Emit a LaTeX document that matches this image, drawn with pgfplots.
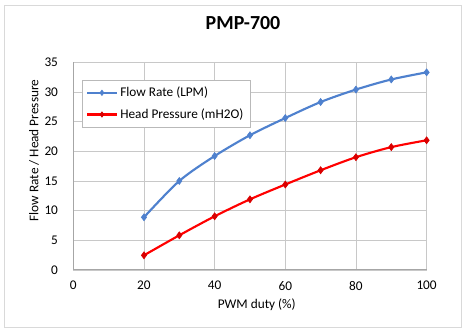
\documentclass[border=0pt]{standalone}
\usepackage{fontspec}
\setmainfont{Carlito}
\usepackage{pgfplots}
\pgfplotsset{compat=1.18}
\definecolor{flowblue}{RGB}{79,129,206}
\definecolor{headred}{RGB}{255,0,0}
\definecolor{gridgray}{RGB}{200,200,200}
\definecolor{axisgray}{RGB}{166,166,166}
\begin{document}
\begin{tikzpicture}
\path (-55bp,-46.5bp) rectangle (295.3bp,202.5bp);
\draw[gray!30, line width=0.75bp] (-51.6bp,-43.1bp) rectangle (291.2bp,198.4bp);
\begin{axis}[
  at={(0,0)}, anchor=south west,
  scale only axis, width=265bp, height=155.8bp,
  xmin=0, xmax=100, ymin=0, ymax=35,
  xtick={0,20,...,100}, ytick={0,5,...,35},
  grid=major, major grid style={gridgray, line width=0.6bp},
  axis line style={draw=none},
  tick style={draw=none},
  font=\fontsize{10}{12}\selectfont,
  /pgf/number format/assume math mode=true,
  xticklabel style={yshift=-5bp},
  yticklabel style={xshift=-8bp},
  legend style={at={(0.024,0.915)}, anchor=north west, draw=gray!55, line width=0.6bp,
    font=\fontsize{10}{12}\selectfont, row sep=3.5bp, inner xsep=3bp, inner ysep=3bp},
  legend cell align=left,
  legend image code/.code={\draw[mark repeat=2,mark phase=2,#1, mark size=2bp] plot coordinates {(0bp,0bp)(11bp,0bp)(22bp,0bp)};},
  clip=false,
]
\addplot[flowblue, line width=1.6bp, smooth, tension=0.5, mark=diamond*, mark size=2.6bp, mark options={fill=flowblue, draw=flowblue, line width=0.5bp}]
  coordinates {(20,8.88)(30,15.0)(40,19.2)(50,22.7)(60,25.6)(70,28.3)(80,30.4)(90,32.1)(100,33.3)};
\addlegendentry{Flow Rate (LPM)}
\addplot[headred, line width=1.6bp, smooth, tension=0.5, mark=diamond*, mark size=2.6bp, mark options={fill=headred!85!black, draw=headred!85!black, line width=0.5bp}]
  coordinates {(20,2.47)(30,5.84)(40,9.04)(50,11.9)(60,14.4)(70,16.8)(80,19.0)(90,20.7)(100,21.85)};
\addlegendentry{Head Pressure (mH2O)}
\draw[axisgray, line width=0.75bp] (rel axis cs:0,1) -- (rel axis cs:0,0) -- (rel axis cs:1,0);
\end{axis}
\node[font=\fontsize{15}{18}\selectfont\bfseries] at (127.3bp,185.3bp) {PMP-700};
\node[rotate=90, font=\fontsize{10}{12}\selectfont] at (-29.5bp,89.6bp) {Flow Rate / Head Pressure};
\node[font=\fontsize{10}{12}\selectfont] at (137.6bp,-26.3bp) {PWM duty (\%)};
\end{tikzpicture}
\end{document}
